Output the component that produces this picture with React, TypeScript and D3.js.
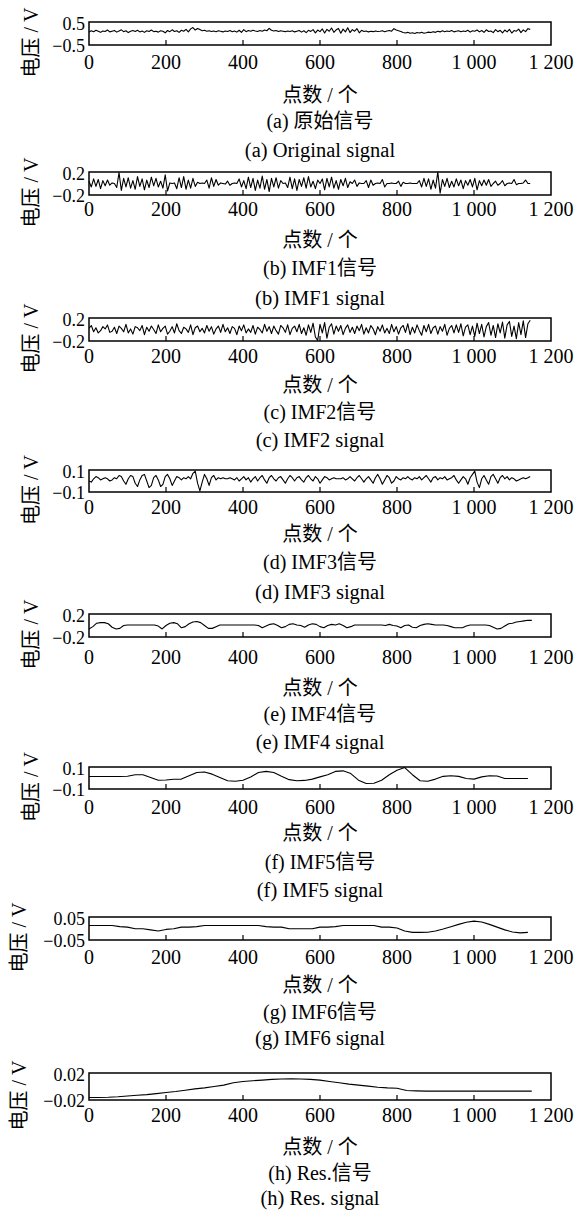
import * as d3 from 'd3'

const WIDTH = 584
const HEIGHT = 1219
const FONT = "'Liberation Serif', 'Noto Sans CJK SC', serif"

// x axis (sample index)
const X_TICKS = [0, 200, 400, 600, 800, 1000, 1200]
const X_TICK_LABELS = ['0', '200', '400', '600', '800', '1 000', '1 200']

// signals (one value every STEP samples)
const ORIGINAL = [
  0.06, 0.12, 0.08, 0.14, 0.10, 0.05, 0.11, 0.09, 0.15, 0.07,
  0.10, 0.13, 0.06, 0.11, 0.16, 0.08, 0.12, 0.04, 0.10, 0.13,
  0.09, 0.14, 0.07, 0.11, 0.05, 0.12, 0.09, 0.15, 0.08, 0.10,
  0.06, 0.12, 0.10, 0.03, 0.13, 0.08, 0.16, 0.09, 0.12, 0.05,
  0.14, 0.10, 0.18, 0.07, 0.20, 0.26, 0.15, 0.22, 0.17, 0.12,
  0.14, 0.10, 0.12, 0.09, 0.11, 0.08, 0.12, 0.10, 0.07, 0.11,
  0.09, 0.13, 0.08, 0.11, 0.06, 0.14, 0.05, 0.17, 0.08, 0.13,
  0.10, 0.14, 0.11, 0.09, 0.13, 0.10, 0.15, 0.12, 0.22, 0.14,
  0.11, 0.13, 0.09, 0.12, 0.10, 0.08, 0.11, 0.09, 0.12, 0.07,
  0.10, 0.13, 0.06, 0.12, 0.04, 0.14, 0.09, 0.17, 0.03, 0.15,
  0.08, 0.20, 0.02, 0.18, 0.10, 0.24, 0.05, 0.16, 0.22, 0.01,
  0.19, 0.07, 0.25, 0.04, 0.17, 0.10, 0.21, 0.03, 0.14, 0.09,
  0.11, 0.07, 0.10, 0.08, 0.11, 0.09, 0.10, 0.12, 0.08, 0.11,
  0.13, 0.10, 0.21, 0.15, 0.12, 0.09, 0.04, 0.02, 0.05, 0.01,
  0.03, 0.00, 0.04, 0.02, 0.05, 0.01, 0.03, 0.06, 0.04, 0.08,
  0.05, 0.10, 0.07, 0.12, 0.08, 0.11, 0.09, 0.13, 0.07, 0.10,
  0.12, 0.08, 0.11, 0.09, 0.14, 0.06, 0.12, 0.10, 0.15, 0.07,
  0.13, 0.05, 0.16, 0.09, 0.11, 0.04, 0.17, 0.08, 0.14, 0.03,
  0.15, 0.07, 0.18, 0.02, 0.13, 0.10, 0.19, 0.04, 0.16, 0.08,
  0.21, 0.18
]

const IMF1 = [
  0.04, -0.06, 0.08, -0.05, 0.07, -0.09, 0.05, -0.04, 0.06, -0.03,
  0.01, 0.00, -0.07, 0.19, -0.12, 0.09, -0.06, 0.10, -0.08, 0.05,
  -0.10, 0.12, -0.05, 0.08, -0.11, 0.06, -0.07, 0.11, -0.04, 0.09,
  -0.06, 0.04, -0.08, 0.15, -0.13, 0.01, 0.00, 0.01, -0.09, 0.10,
  -0.07, 0.12, -0.10, 0.06, -0.08, 0.09, -0.05, 0.02, 0.00, 0.01,
  0.00, 0.06, -0.08, 0.10, -0.05, 0.07, -0.03, 0.01, 0.00, -0.01,
  0.04, -0.03, 0.00, 0.01, 0.00, 0.08, -0.06, 0.05, -0.09, 0.11,
  -0.07, 0.09, -0.12, 0.06, -0.08, 0.13, -0.10, 0.07, -0.14, 0.09,
  -0.06, 0.10, -0.08, 0.05, 0.00, 0.01, -0.07, 0.11, -0.09, 0.08,
  -0.12, 0.07, -0.05, 0.10, -0.08, 0.12, -0.06, 0.04, -0.09, 0.06,
  0.00, 0.08, -0.11, 0.09, -0.06, 0.11, -0.08, 0.05, -0.10, 0.07,
  -0.04, 0.09, -0.07, 0.03, 0.00, 0.06, -0.05, 0.01, 0.00, 0.00,
  0.05, -0.07, 0.06, -0.03, 0.00, 0.01, 0.00, 0.07, -0.06, 0.00,
  0.00, 0.01, 0.00, 0.00, 0.04, -0.05, 0.02, 0.00, 0.00, 0.01,
  0.00, 0.00, 0.00, 0.05, -0.06, 0.09, -0.05, 0.08, -0.10, 0.06,
  -0.08, 0.20, -0.17, 0.07, -0.05, 0.09, -0.07, 0.04, -0.06, 0.08,
  -0.04, 0.06, -0.09, 0.05, -0.03, 0.07, -0.06, 0.09, -0.11, 0.05,
  -0.04, 0.06, -0.03, 0.07, -0.05, 0.00, 0.04, -0.03, 0.00, 0.05,
  -0.04, 0.00, 0.01, 0.00, 0.07, -0.02, 0.00, 0.00, 0.01, 0.06,
  0.00, 0.00
]

const IMF2 = [
  0.02, 0.07, -0.04, 0.03, -0.06, -0.02, 0.05, 0.01, 0.08, -0.05,
  -0.03, 0.04, -0.07, 0.06, 0.02, -0.04, 0.09, -0.06, 0.01, -0.08,
  0.05, 0.03, -0.02, 0.07, -0.09, 0.04, -0.03, 0.06, 0.00, -0.07,
  0.08, -0.04, 0.02, 0.06, -0.08, -0.03, 0.05, -0.06, 0.10, -0.02,
  -0.07, 0.04, 0.01, -0.05, 0.08, -0.09, 0.03, 0.06, -0.04, 0.02,
  -0.06, 0.07, -0.03, 0.05, -0.08, 0.01, 0.06, -0.05, 0.09, -0.04,
  0.03, -0.07, 0.05, 0.02, -0.09, 0.06, -0.02, 0.08, -0.06, 0.01,
  -0.05, 0.07, -0.08, 0.04, 0.00, -0.06, 0.09, -0.03, 0.05, -0.07,
  0.06, -0.02, -0.08, 0.07, 0.03, -0.05, 0.08, -0.09, 0.02, 0.06,
  -0.04, 0.09, -0.07, 0.03, -0.10, 0.08, -0.05, 0.11, -0.13, -0.19,
  0.09, -0.06, 0.12, -0.15, 0.04, 0.10, -0.08, 0.06, -0.03, 0.07,
  -0.09, 0.02, 0.08, -0.05, 0.04, -0.07, 0.06, -0.02, 0.09, -0.08,
  0.03, -0.06, 0.07, 0.01, -0.09, 0.05, -0.03, 0.08, -0.06, 0.02,
  -0.07, 0.09, -0.04, 0.05, -0.08, 0.03, 0.07, -0.05, 0.10, -0.09,
  0.04, -0.06, 0.08, -0.02, -0.10, 0.07, -0.04, 0.09, -0.07, 0.03,
  0.06, -0.08, 0.05, -0.03, 0.09, -0.10, 0.02, 0.07, -0.06, 0.08,
  -0.05, 0.10, -0.11, 0.04, 0.08, -0.09, 0.06, -0.12, 0.11, -0.07,
  0.09, -0.13, 0.05, 0.12, -0.10, 0.07, -0.14, 0.10, -0.06, 0.13,
  -0.15, 0.08, 0.14, -0.12, 0.06, -0.16, 0.12, -0.09, 0.15, -0.14,
  0.10, 0.16
]

const IMF3 = [
  0.00, -0.01, 0.02, 0.04, 0.03, 0.01, 0.02, 0.03, 0.02, 0.00,
  0.01, 0.03, 0.02, 0.05, 0.04, 0.00, -0.03, 0.02, 0.05, 0.04,
  -0.02, -0.05, 0.01, 0.05, 0.06, 0.00, -0.06, -0.04, 0.03, 0.05,
  0.01, -0.05, -0.03, 0.04, 0.06, 0.02, -0.04, 0.00, 0.04, 0.03,
  0.01, 0.03, 0.02, 0.04, 0.02, 0.07, 0.09, -0.02, -0.09, -0.01,
  0.06, 0.02, -0.04, 0.03, 0.05, 0.01, 0.03, 0.02, 0.03, 0.02,
  0.02, 0.03, 0.02, 0.01, 0.03, 0.00, 0.02, 0.04, 0.01, 0.03,
  -0.01, 0.02, 0.04, 0.00, 0.03, 0.05, 0.01, -0.02, 0.03, 0.05,
  0.02, 0.00, 0.03, 0.04, 0.01, -0.02, 0.02, 0.05, 0.03, 0.00,
  0.03, 0.04, 0.01, -0.01, 0.03, 0.05, 0.02, 0.00, 0.04, 0.02,
  -0.02, 0.01, 0.04, 0.03, 0.01, 0.02, 0.03, 0.02, 0.02, 0.02,
  0.03, 0.01, 0.02, 0.04, 0.02, 0.00, 0.03, 0.05, 0.02, -0.01,
  0.02, 0.04, 0.01, -0.02, 0.03, 0.06, 0.02, -0.03, 0.01, 0.05,
  0.03, -0.02, 0.00, 0.04, 0.02, 0.01, 0.03, 0.02, 0.04, 0.02,
  0.01, 0.03, 0.02, 0.04, 0.01, 0.03, 0.05, 0.02, -0.01, 0.03,
  0.04, 0.01, 0.03, 0.02, 0.04, 0.01, 0.02, 0.03, 0.05, 0.01,
  -0.02, 0.01, 0.04, 0.02, -0.03, 0.03, 0.06, 0.09, -0.01, -0.06,
  0.02, 0.05, 0.01, -0.03, 0.04, 0.06, 0.02, -0.02, 0.03, 0.05,
  0.02, 0.04, 0.01, 0.03, 0.02, 0.00, 0.01, 0.02, 0.03, 0.02,
  0.03, 0.04
]

const IMF4 = [
  -0.06, -0.02, 0.04, 0.05, 0.05, 0.03, -0.03, -0.06, -0.05, 0.00,
  0.01, 0.01, 0.01, 0.01, 0.01, 0.01, 0.01, 0.01, -0.01, -0.06,
  0.00, 0.04, 0.05, 0.03, -0.04, -0.02, 0.03, 0.06, 0.07, 0.05,
  0.00, -0.05, -0.05, -0.02, 0.01, 0.01, 0.01, 0.01, 0.01, 0.01,
  0.01, 0.01, 0.01, 0.01, 0.00, -0.04, -0.01, 0.02, 0.03, 0.00,
  -0.04, -0.02, 0.02, 0.03, 0.01, 0.00, -0.03, 0.01, 0.03, 0.02,
  -0.02, -0.04, 0.00, 0.02, 0.01, 0.03, 0.00, -0.04, -0.02, 0.01,
  0.01, 0.01, 0.01, 0.01, 0.01, 0.01, 0.01, 0.00, 0.02, 0.00,
  -0.01, -0.04, 0.00, 0.01, -0.03, -0.04, 0.00, 0.02, 0.03, 0.02,
  0.01, 0.01, 0.01, 0.00, -0.02, -0.04, -0.04, -0.04, -0.01, 0.01,
  0.01, 0.01, 0.01, 0.01, 0.00, -0.03, -0.06, -0.05, -0.01, 0.03,
  0.04, 0.06, 0.07, 0.08, 0.09, 0.09
]

const IMF5 = [
  0.014, 0.014, 0.014, 0.014, 0.014, 0.016, 0.030, 0.030, 0.005, -0.020,
  -0.018, -0.012, -0.010, 0.020, 0.050, 0.055, 0.035, 0.005, -0.025, -0.030,
  -0.020, 0.010, 0.050, 0.060, 0.050, 0.015, -0.015, -0.025, -0.022, -0.010,
  0.010, 0.030, 0.060, 0.065, 0.040, -0.020, -0.050, -0.048, -0.020, 0.030,
  0.070, 0.095, 0.030, -0.025, -0.030, -0.010, 0.015, 0.020, 0.015, -0.005,
  -0.010, 0.010, 0.020, 0.018, -0.005, -0.005, -0.005, -0.005
]

const IMF6 = [
  0.013, 0.013, 0.013, 0.013, 0.008, 0.006, -0.001, -0.001, -0.006, -0.011,
  -0.004, -0.001, 0.006, 0.006, 0.008, 0.013, 0.013, 0.013, 0.013, 0.013,
  0.013, 0.013, 0.013, 0.008, 0.006, 0.006, -0.001, -0.001, -0.001, -0.001,
  0.006, 0.006, 0.008, 0.013, 0.013, 0.013, 0.013, 0.013, 0.006, 0.006,
  0.002, -0.011, -0.017, -0.017, -0.016, -0.011, -0.002, 0.008, 0.018, 0.027,
  0.032, 0.028, 0.018, 0.006, -0.006, -0.015, -0.019, -0.017
]

const RES = [
  -0.0164, -0.0164, -0.016, -0.0152, -0.014, -0.013, -0.012, -0.0105, -0.009, -0.0075,
  -0.0055, -0.0035, -0.002, 0.0, 0.002, 0.0055, 0.0075, 0.0085, 0.0095, 0.0105,
  0.011, 0.0115, 0.011, 0.0105, 0.0095, 0.0075, 0.0055, 0.0035, 0.002, 0.0005,
  -0.001, -0.002, -0.0025, -0.006, -0.0065, -0.0068, -0.0068, -0.0068, -0.0068, -0.0068,
  -0.0068, -0.0068, -0.0068, -0.0068, -0.0068, -0.0068, -0.0068
]

const SERIES = [ORIGINAL, IMF1, IMF2, IMF3, IMF4, IMF5, IMF6, RES]
const STEPS = [6, 6, 6, 6, 10, 20, 20, 25]
const Y_LIMITS = [0.5, 0.2, 0.2, 0.1, 0.2, 0.1, 0.05, 0.02]
const Y_LIMIT_LABELS = ['0.5', '0.2', '0.2', '0.1', '0.2', '0.1', '0.05', '0.02']
const CAPTIONS_ZH = ['(a) 原始信号', '(b) IMF1信号', '(c) IMF2信号', '(d) IMF3信号', '(e) IMF4信号', '(f) IMF5信号', '(g) IMF6信号', '(h) Res.信号']
const CAPTIONS_EN = ['(a) Original signal', '(b) IMF1 signal', '(c) IMF2 signal', '(d) IMF3 signal', '(e) IMF4 signal', '(f) IMF5 signal', '(g) IMF6 signal', '(h) Res. signal']

// layout of each panel: box top/bottom and the rows of text under it
const LAYOUT = [
  { top: 22, bottom: 45, ticks: 62, xlabel: 95, zh: 121, en: 150, ylabelX: 31 },
  { top: 172, bottom: 195, ticks: 209, xlabel: 240, zh: 268, en: 298, ylabelX: 31 },
  { top: 318, bottom: 341, ticks: 356, xlabel: 385, zh: 412, en: 440, ylabelX: 31 },
  { top: 470, bottom: 492, ticks: 507, xlabel: 534, zh: 562, en: 592, ylabelX: 31 },
  { top: 614, bottom: 637, ticks: 657, xlabel: 688, zh: 714, en: 742, ylabelX: 31 },
  { top: 767, bottom: 789, ticks: 807, xlabel: 833, zh: 862, en: 890, ylabelX: 31 },
  { top: 917, bottom: 940, ticks: 957, xlabel: 985, zh: 1012, en: 1038, ylabelX: 19 },
  { top: 1073, bottom: 1100, ticks: 1115, xlabel: 1147, zh: 1173, en: 1198, ylabelX: 19 }
]

const x = d3.scaleLinear().domain([0, 1200]).range([89, 551])

function Panel({ idx }: { idx: number }) {
  const lay = LAYOUT[idx]
  const lim = Y_LIMITS[idx]
  const step = STEPS[idx]
  const y = d3.scaleLinear().domain([-lim, lim]).range([lay.bottom, lay.top])
  const line = d3.line<number>()
    .x((_, i) => x(i * step))
    .y(d => y(d))
  const cx = (x(0) + x(1200)) / 2
  const midY = (lay.top + lay.bottom) / 2 + 9

  return (
    <g>
      <path d={line(SERIES[idx]) || ''} fill="none" stroke="#000" strokeWidth={1.1} strokeLinejoin="round" />
      <rect x={x(0)} y={lay.top} width={x(1200) - x(0)} height={lay.bottom - lay.top}
        fill="none" stroke="#000" strokeWidth={1.5} />
      {X_TICKS.slice(1, -1).map(t => (
        <line key={t} x1={x(t)} x2={x(t)} y1={lay.bottom} y2={lay.bottom - 5} stroke="#000" strokeWidth={1.2} />
      ))}
      {X_TICKS.map((t, i) => (
        <text key={t} x={x(t)} y={lay.ticks} textAnchor="middle" dominantBaseline="central" fontSize={20}>
          {X_TICK_LABELS[i]}
        </text>
      ))}
      <text x={x(0) - 4} y={y(lim) + 2} textAnchor="end" dominantBaseline="central" fontSize={18}>
        {Y_LIMIT_LABELS[idx]}
      </text>
      <text x={x(0) - 4} y={y(-lim) + 1} textAnchor="end" dominantBaseline="central" fontSize={18}>
        {'\u2212' + Y_LIMIT_LABELS[idx]}
      </text>
      <text transform={`translate(${lay.ylabelX},${midY}) rotate(-90)`} textAnchor="middle"
        dominantBaseline="central" fontSize={20}>
        电压 / V
      </text>
      <text x={cx} y={lay.xlabel} textAnchor="middle" dominantBaseline="central" fontSize={20}>点数 / 个</text>
      <text x={cx} y={lay.zh} textAnchor="middle" dominantBaseline="central" fontSize={20}>{CAPTIONS_ZH[idx]}</text>
      <text x={cx} y={lay.en} textAnchor="middle" dominantBaseline="central" fontSize={20.5}>{CAPTIONS_EN[idx]}</text>
    </g>
  )
}

export default function App() {
  return (
    <svg width={WIDTH} height={HEIGHT} fontFamily={FONT}
      style={{ position: 'absolute', left: 0, top: 0, background: '#fff' }}>
      <rect width={WIDTH} height={HEIGHT} fill="#fff" />
      {SERIES.map((_, i) => <Panel key={i} idx={i} />)}
    </svg>
  )
}
